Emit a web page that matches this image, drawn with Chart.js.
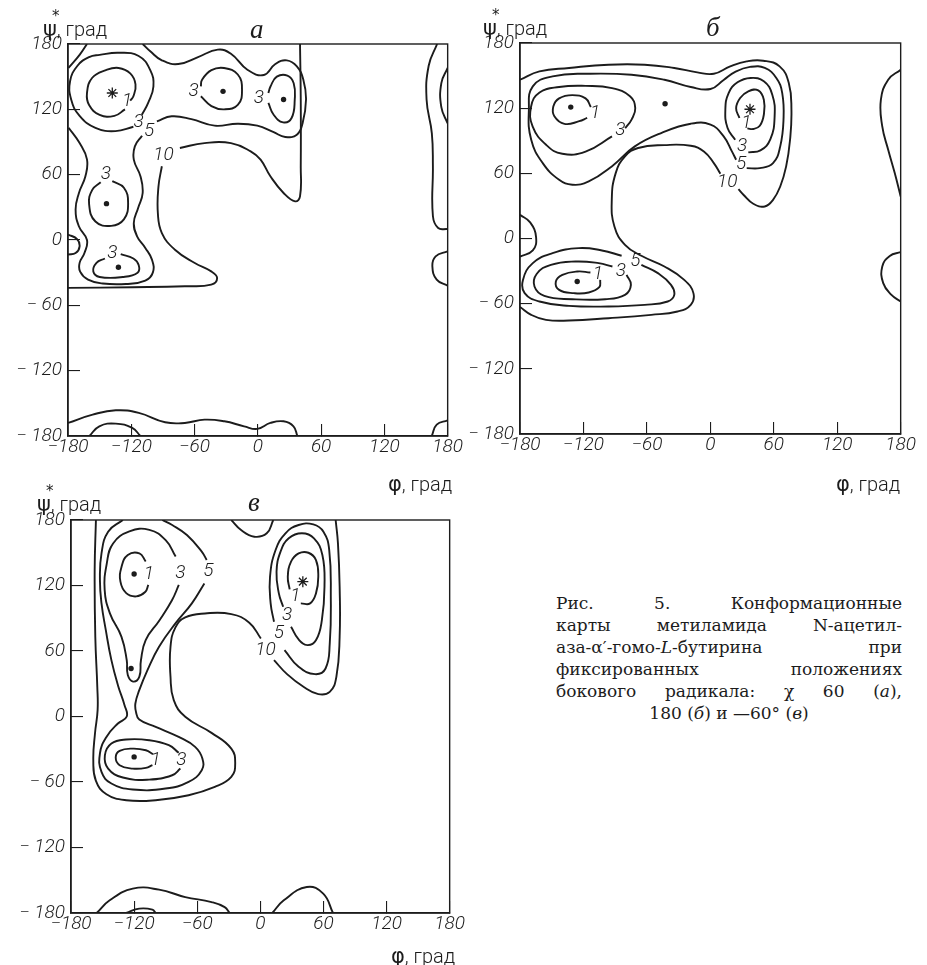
<!DOCTYPE html>
<html lang="ru">
<head>
<meta charset="utf-8">
<title>Конформационные карты</title>
<script src="https://cdn.jsdelivr.net/npm/chart.js@4.4.1/dist/chart.umd.min.js"></script>
<style>
  html, body { margin: 0; padding: 0; background: #fff; }
  body { position: relative; width: 927px; height: 965px; overflow: hidden; color: #1c1c1c; }
  canvas { position: absolute; }
  .axis-title { position: absolute; font-family: Roboto, "DejaVu Sans", sans-serif; font-weight: 300; font-size: 20px; line-height: 1; white-space: nowrap; }
  .axis-title .sym { position: relative; font-family: "DejaVu Sans", sans-serif; font-weight: 400; font-size: 21px; }
  .axis-title .ast { position: absolute; left: 9px; top: -8px; font-size: 15px; }
  .letter { position: absolute; font-family: "Liberation Serif", serif; font-style: italic; font-size: 27px; line-height: 1; }
  .caption { position: absolute; left: 556px; top: 592px; width: 346px; font-family: "DejaVu Serif", serif; font-size: 17px; line-height: 22px; }
  .caption .row { display: flex; justify-content: space-between; white-space: nowrap; }
  .caption .row.last { justify-content: center; }
</style>
</head>
<body>
<canvas id="mapA"></canvas>
<canvas id="mapB"></canvas>
<canvas id="mapC"></canvas>

<div class="axis-title" style="left:43px;top:19px"><span class="sym">ψ<span class="ast">*</span></span>, град</div>
<div class="axis-title" style="left:483px;top:18px"><span class="sym">ψ<span class="ast">*</span></span>, град</div>
<div class="axis-title" style="left:37px;top:494px"><span class="sym">ψ<span class="ast">*</span></span>, град</div>
<div class="axis-title" style="left:388px;top:474px"><span class="sym">φ</span>, град</div>
<div class="axis-title" style="left:836px;top:474px"><span class="sym">φ</span>, град</div>
<div class="axis-title" style="left:391px;top:946px"><span class="sym">φ</span>, град</div>

<div class="letter" style="left:250px;top:16px">а</div>
<div class="letter" style="left:706px;top:14px">б</div>
<div class="letter" style="left:248px;top:489px">в</div>

<div class="caption">
  <div class="row"><span>Рис.</span><span>5.</span><span>Конформационные</span></div>
  <div class="row"><span>карты</span><span>метиламида</span><span>N-ацетил-</span></div>
  <div class="row"><span>аза-α′-гомо-<i>L</i>-бутирина</span><span>при</span></div>
  <div class="row"><span>фиксированных</span><span>положениях</span></div>
  <div class="row"><span>бокового</span><span>радикала:</span><span>χ</span><span>60</span><span>(<i>а</i>),</span></div>
  <div class="row last"><span>180 (<i>б</i>) и —60° (<i>в</i>)</span></div>
</div>

<script>
const INK = "#1c1c1c";
const TICK_FONT = { family: "Roboto, 'Liberation Sans', sans-serif", size: 19, style: "italic", weight: "300" };

const phiTicks = [-180, -120, -60, 0, 60, 120, 180];
const psiTicks = [-180, -120, -60, 0, 60, 120, 180];

// ---- map a (chi 60) : contours as [phi, psi] ----
const aLoop1 = [[-126,120],[-136,114],[-150,115],[-160,124],[-162,135],[-157,149],[-144,156],[-132,158],[-121,153],[-116,143],[-118,132],[-121,128]];
const aLoop3Top = [[-110,115],[-104,126],[-99,141],[-102,156],[-113,169],[-132,172],[-150,170],[-160,168],[-171,160],[-178,146],[-177,129],[-169,114],[-154,103],[-135,100],[-118,104]];
const aCorner = [[-162,180],[-169,170],[-179.5,158]];
const aLoop3Mid = [[-138,54],[-127,48],[-123,34],[-127,19],[-139,13],[-154,17],[-160,33],[-157,46],[-149,53]];
const aLoop3Low = [[-130,-13],[-118,-17],[-113,-23],[-114,-30],[-128,-34],[-150,-34],[-156,-29],[-153,-21],[-145,-17]];
const aLoop3R1 = [[-54,132],[-44,123],[-32,120],[-19,124],[-15,138],[-19,152],[-32,158],[-44,156],[-53,147],[-54,141]];
const aLoop3R2 = [[10,126],[15,115],[24,108],[32,112],[35,129],[34,144],[28,151],[18,150],[12,141],[10,135]];
const aLevel5a = [[-179.4,103],[-169,89],[-162,74],[-163.5,58.5],[-169.7,43],[-172.8,28],[-169.7,12.6],[-162,0],[-164.4,-12],[-169,-21],[-168.5,-29],[-161,-36.4],[-147,-40],[-125,-40.4],[-106.7,-37.3],[-99.5,-29.7],[-100.4,-18],[-106.7,-7.3],[-114.5,3.4],[-117.6,15.6],[-113.5,29.4],[-109.2,43.2],[-111.3,58.5],[-117.6,73.8],[-116.6,86],[-109.8,95.8]];
const aLevel5b = [[-95.7,109],[-81.7,113.6],[-63,111],[-41,105],[-19.3,106.8],[-0.5,105],[15,99],[26,94.6],[37,96.7],[42.5,107.5],[45.7,129],[43.2,147],[37,159.5],[27.5,165],[16.6,161.6],[5.7,151.5],[-9.9,156.4],[-25.5,171],[-38,174.8],[-56.7,168],[-75.4,161.6],[-91,165],[-102,173.3],[-109.2,180]];
const aLevel10a = [[40,180],[40.7,129],[40.7,67.7],[40,40],[35.4,35.5],[24.4,43.2],[11.9,58.5],[2.6,73.8],[-6.8,81.4],[-25.5,89],[-50.5,89],[-73.9,84.5]];
const aLevel10b = [[-91,67.7],[-94.2,49.3],[-94.8,24.8],[-91,6.4],[-78.6,-8.9],[-59.8,-21.1],[-44.2,-28.8],[-38.6,-34.9],[-44.2,-41],[-69.2,-42.5],[-119,-43.4],[-180,-44]];
const aRight1 = [[170,180],[162,160],[160,129],[165,98],[166,68],[166,22],[171,11],[180,10]];
const aRight2 = [[180,158],[174,144],[174,122],[180,107]];
const aRight3 = [[180,-10.4],[168.6,-15],[165.5,-24.2],[169.6,-36.4],[180,-42]];
const aLeftSmall = [[-180,5],[-171.6,1],[-169,-5.8],[-172.8,-12],[-180,-13.4]];
const aBottom1 = [[-180,-168],[-156.6,-160.4],[-134.7,-156.4],[-112.9,-158.8],[-87.9,-167.4],[-69.2,-168],[-50.5,-165],[-31.7,-166.5],[-13,-171.1],[-0.5,-173.5],[11.9,-168],[24.4,-166.5],[33.8,-171.1],[37.5,-180]];
const aBottom2 = [[-159.7,-180],[-150.3,-171.1],[-134.7,-168.6],[-119.1,-172.6],[-111.3,-180]];
const aBottom3 = [[164.9,-180],[169.6,-169.6],[180,-165.6]];
const aDots = [[-33,136.5],[24.4,129],[-143.5,33.4],[-132.2,-25]];
const aStars = [[-138,135]];
const aLabels = [["1",-124,127],["3",-113,108],["5",-103,100],["10",-89.5,78],["3",-144,60],["3",-138,-12],["3",-61,136.5],["3",1,130]];

// ---- map б (chi 180) ----
const bLoop1L = [[-113,121],[-118,129],[-130.5,132],[-143,129],[-148.5,121.5],[-147.5,112.5],[-138,105.5],[-124,108],[-116.5,111]];
const bLoop3L = [[-93,94],[-118,80],[-140,78],[-155,86],[-168,103],[-169.5,121.5],[-161.5,134.5],[-143,139.5],[-118,140.5],[-93,138.5],[-76,131],[-71,120],[-74.5,109.5],[-80.5,101.5]];
const bLoop1S = [[27.5,111],[24.4,120],[28.2,129.3],[35.9,135.5],[45.3,136.4],[50.6,127.8],[50.6,114],[46.8,103.8],[40.6,100.8],[35,101.4]];
const bLoop3S = [[35.9,79.3],[47.4,81.1],[56.8,91.5],[60.8,112.4],[58.6,132.4],[50.6,144.7],[38.1,147.8],[25.7,143.8],[17.3,133.9],[14.2,118.6],[16.3,101.7],[23.5,90.9]];
const bLevel5Top = [[34.4,64.8],[46.8,64.8],[59.3,69.4],[66.1,84.8],[69.2,109.4],[68,133.9],[62.4,147.8],[51.5,157],[37.5,158],[23.5,153.5],[12.6,146],[0.2,137.6],[-18.5,139.5],[-43.4,146.2],[-74.5,150.8],[-115,151.7],[-149.2,149.3],[-167.9,140.1],[-171.6,118.6],[-169.4,90.9],[-158.5,69.4],[-143,54.1],[-130.5,49.5],[-115,52.5],[-93.2,66.4],[-71.4,84.8],[-46.5,97.1],[-18.5,105.7],[0.2,104.8],[12.6,94],[20.4,80.2],[24.4,72.5]];
const bLevel10a = [[-180,146.2],[-161.6,153.9],[-133.6,157],[-96.3,160],[-62.1,160],[-34.1,157],[-12.3,153],[3.3,151.7],[18.8,158.5],[34.4,163.1],[50,163.7],[65.5,158.5],[74.2,143.1],[76.7,118.6],[75.4,90.9],[71.7,66.4],[66.1,47.9],[59.3,35.6],[51.5,29.5],[40.6,32],[31.3,40.3],[26.6,45.5]];
const bLevel10b = [[9.5,59.6],[3.3,69.4],[-6.1,80.2],[-18.5,85.4],[-43.4,86],[-68.3,83.3],[-80.7,75.6],[-89.5,60.2],[-93.2,35.6],[-90.7,11.1],[-80.7,-5.8],[-65.2,-15.9],[-43.4,-25.8],[-24.7,-38.1],[-16,-50.3],[-18.5,-61.1],[-31,-67.2],[-55.9,-70.3],[-96.3,-73.4],[-133.6,-75.5],[-155.4,-74.9],[-169.4,-70.3],[-180,-63]];
const bLevel5Low = [[-65.2,-24.2],[-49.6,-31.9],[-37.2,-42.7],[-34.1,-51.9],[-40.3,-58],[-62.1,-61.1],[-96.3,-62.6],[-133.6,-62],[-161.6,-58],[-175.6,-50.3],[-177.2,-38.1],[-167.9,-22.7],[-149.2,-13.5],[-124.3,-8.9],[-102.5,-11],[-83.9,-15.9]];
const bLevel3Low = [[-79.2,-33.5],[-75.1,-42.7],[-80.7,-51.9],[-99.4,-55.9],[-130.5,-55.9],[-157,-52.8],[-166.3,-44.2],[-164.1,-32.5],[-150.8,-24.2],[-127.4,-21.2],[-105.6,-22.7],[-92.6,-25.8]];
const bLevel1Low = [[-104.1,-38.1],[-105,-44.8],[-115,-49.7],[-129,-50.3],[-143,-47.3],[-146.1,-39.6],[-139.9,-33.5],[-125.9,-30.4],[-113.4,-31.3]];
const bLeftSmall = [[-180,21.8],[-170.4,14.8],[-164.8,1.3],[-167.9,-11],[-180,-16.6]];
const bRight1 = [[180,155.4],[168.2,146.2],[161.3,127.8],[162.6,103.2],[168.2,81.7],[174.4,60.2],[180,38.7]];
const bRight2 = [[180,-12.6],[169.7,-16],[162.6,-25.8],[163.5,-41.1],[171.3,-51.9],[180,-58]];
const bDots = [[-132,121],[-42.8,124.1],[-125.9,-39.6]];
const bStars = [[37.5,119]];
const bLabels = [["1",-109,115],["3",-85,100],["1",34,106],["3",30,85],["5",29,68],["10",16,52],["5",-71,-21],["3",-84.5,-30.4],["1",-106.3,-32.5]];

// ---- map в (chi -60) ----
const vLoop1Top = [[-109,142],[-115,149.5],[-126,148],[-132,137],[-133,123.5],[-127.5,113],[-118,110],[-109.5,114],[-106.5,120.5]];
const vLoop3Top = [[-77.5,120.5],[-84,106.5],[-96,88],[-109,70],[-113.5,51.5],[-115,36.5],[-121,32],[-126,38],[-127,51.5],[-132,73],[-143,94.5],[-148,116],[-146,140],[-140,158.5],[-124.5,169.5],[-105.5,171],[-90,161.5],[-80.5,146.5]];
const vLevel5a = [[-130.7,180],[-144.7,169.3],[-151,149.4],[-152.5,125],[-151,103.6],[-146.9,79.1],[-141.6,51.6],[-135.4,28.7],[-129.1,10.4],[-127,0],[-135.4,-6.4],[-146.3,-18.7],[-152.5,-33.9],[-151,-50.7],[-141.6,-61.4],[-121.3,-66.9],[-90.1,-66],[-68.2,-59.9],[-55.7,-49.2],[-55.1,-38.5],[-62,-27.8],[-77.6,-18.7],[-99.5,-9.5],[-115.1,-2.8],[-118.2,4.2],[-118.8,11.9],[-115.1,24.1],[-107.3,42.5],[-96.3,63.9],[-80.7,85.3],[-65.1,103.6],[-53.2,121.9]];
const vLevel5b = [[-51,143.3],[-55.7,151],[-69.8,166.2],[-83.8,175.4],[-93.2,180]];
const vLevel10a = [[0.5,71.5],[-10.5,85.9],[-27.6,93.8],[-52.6,94.4],[-71.4,90.8],[-80.7,81.6],[-85.4,63.9],[-85.4,36.4],[-82.3,15],[-71.4,-0.3],[-46.4,-15],[-27.6,-29.4],[-23.9,-43.1],[-27.6,-55.3],[-43.3,-64.5],[-68.2,-72.1],[-99.5,-76.7],[-127.5,-76.7],[-146.3,-71.2],[-156.3,-59],[-158.8,-40.1],[-157.2,-15.6],[-154.7,5.8],[-155,27.2],[-156.9,73],[-157.5,134.2],[-156.3,180]];
const vLevel10b = [[13,51.6],[25.4,38.8],[41,27.2],[55.1,20.5],[66,22.6],[72.3,36.4],[75.4,73],[75.4,118.9],[73.8,158.6],[71.6,180]];
const vStar5 = [[23,60.8],[36.4,45.5],[52,38.8],[62,44],[66,66.9],[67,109.7],[65.5,152.5],[60,169.3],[50.4,176],[36.4,175.4],[23.9,167.8],[14.5,152.5],[9.2,128],[9.8,103.6],[13,86.8]];
const vStar3 = [[29.2,82.2],[36.4,70.6],[44.8,65.4],[53,70],[58.5,88.3],[61,118.9],[59,147.9],[51,163.2],[39.5,167.8],[27,163.2],[19.2,151],[15.4,132.6],[17.6,112.8],[21.7,100.5]];
const vStar1 = [[38.5,103.6],[47.3,103.6],[52.9,112.8],[55.1,128],[52.9,143.3],[45.7,150],[36.4,149.4],[29.2,141.8],[26.1,128],[27.9,116.4]];
const vLoop1Low = [[-102,-34.5],[-108.8,-30.9],[-121.3,-29.4],[-133.8,-31.5],[-137.5,-37.6],[-133.8,-44.6],[-121.3,-47.7],[-108.8,-47.1],[-102.6,-44.6]];
const vLoop3Low = [[-77.6,-33.3],[-87,-26.3],[-105.7,-21.7],[-127.5,-21.1],[-141.6,-24.8],[-147.8,-35.5],[-144.7,-47.7],[-130.7,-55.9],[-105.7,-57.8],[-83.8,-53.8],[-76,-47.7]];
const vTop = [[-27.6,180],[-18.3,170.8],[-5.8,164.7],[6.1,167.8],[12.3,180]];
const vBottom1 = [[-155.6,-180],[-143.2,-168.4],[-121.3,-157.7],[-96.3,-158.6],[-71.4,-165.4],[-46.4,-170],[-33.9,-174.6],[-29.2,-180]];
const vBottom2 = [[-127.5,-180],[-115.1,-176],[-102.6,-176.9],[-99.5,-180]];
const vBottom3 = [[11.4,-180],[22.3,-168.4],[44.2,-156.2],[59.8,-162.3],[69.1,-180]];
const vDots = [[-120,130.5],[-122.9,44],[-120,-37]];
const vStars = [[40.4,123.5]];
const vLabels = [["1",-106,130.5],["3",-76,131],["5",-49.5,132.6],["1",33.2,109.7],["3",25.4,93],["5",17.6,76],["10",5,61],["1",-99.5,-40],["3",-75,-40]];

const AREA_A = { left: 68, top: 44, right: 453, bottom: 436 };
const AREA_B = { left: 520, top: 43, right: 906, bottom: 434 };
const AREA_C = { left: 71, top: 520, right: 455, bottom: 913 };

function fmtPhi(v) { return v < 0 ? "−" + (-v) : String(v); }
function fmtPsi(v) { return v < 0 ? "− " + (-v) : String(v); }

const framePlugin = {
  id: "frame",
  afterDraw(chart) {
    const { ctx, chartArea: a } = chart;
    ctx.save();
    ctx.strokeStyle = INK;
    ctx.lineWidth = 1.4;
    ctx.strokeRect(a.left, a.top, a.right - a.left, a.bottom - a.top);
    ctx.restore();
  }
};

const labelPlugin = {
  id: "contourLabels",
  afterDatasetsDraw(chart, args, opts) {
    const { ctx, scales } = chart;
    ctx.save();
    ctx.fillStyle = INK;
    ctx.font = "italic 300 19px Roboto, 'Liberation Sans', sans-serif";
    ctx.textAlign = "center";
    ctx.textBaseline = "middle";
    (opts.items || []).forEach(([text, phi, psi]) => {
      ctx.fillText(text, scales.x.getPixelForValue(phi), scales.y.getPixelForValue(psi));
    });
    ctx.restore();
  }
};

function contour(points) {
  return { data: points, showLine: true, borderColor: INK, borderWidth: 1.9, pointRadius: 0, tension: 0.45, fill: false };
}

function makePanel(id, area, lines, dots, stars, labels) {
  const yW = 70, padTop = 40;
  const w = area.right - area.left;
  const h = area.bottom - area.top;
  const canvas = document.getElementById(id);
  canvas.width = yW + w + 22;
  canvas.height = padTop + h + 40;
  canvas.style.left = (area.left - yW) + "px";
  canvas.style.top = (area.top - padTop) + "px";

  const datasets = lines.map(contour);
  datasets.push({ data: dots, showLine: false, pointRadius: 2.7, pointBackgroundColor: INK, pointBorderWidth: 0 });
  datasets.push({ data: stars, showLine: false, pointStyle: "star", pointRadius: 5.5, pointBorderColor: INK, pointBorderWidth: 1.3 });

  return new Chart(canvas, {
    type: "scatter",
    data: { datasets },
    options: {
      responsive: false,
      animation: false,
      events: [],
      layout: { padding: { top: padTop, right: 22, left: 0, bottom: 0 } },
      plugins: { legend: { display: false }, tooltip: { enabled: false }, contourLabels: { items: labels } },
      scales: {
        x: {
          type: "linear", min: -180, max: 180,
          afterBuildTicks: (s) => { s.ticks = phiTicks.map((value) => ({ value })); },
          afterFit: (s) => { s.height = 40; },
          ticks: { font: TICK_FONT, color: INK, padding: 12, maxRotation: 0, autoSkip: false, callback: fmtPhi },
          grid: { drawOnChartArea: false, drawTicks: true, tickLength: -12, color: INK, lineWidth: 1.1 },
          border: { display: true, color: INK, width: 1.4 }
        },
        y: {
          type: "linear", min: -180, max: 180,
          afterBuildTicks: (s) => { s.ticks = psiTicks.map((value) => ({ value })); },
          afterFit: (s) => { s.width = yW; },
          ticks: { font: TICK_FONT, color: INK, padding: 18, autoSkip: false, callback: fmtPsi },
          grid: { drawOnChartArea: false, drawTicks: true, tickLength: -12, color: INK, lineWidth: 1.1 },
          border: { display: true, color: INK, width: 1.4 }
        }
      }
    },
    plugins: [framePlugin, labelPlugin]
  });
}

makePanel("mapA", AREA_A,
  [aLoop1, aLoop3Top, aCorner, aLoop3Mid, aLoop3Low, aLoop3R1, aLoop3R2, aLevel5a, aLevel5b, aLevel10a, aLevel10b,
   aRight1, aRight2, aRight3, aLeftSmall, aBottom1, aBottom2, aBottom3],
  aDots, aStars, aLabels);

makePanel("mapB", AREA_B,
  [bLoop1L, bLoop3L, bLoop1S, bLoop3S, bLevel5Top, bLevel10a, bLevel10b, bLevel5Low, bLevel3Low, bLevel1Low,
   bLeftSmall, bRight1, bRight2],
  bDots, bStars, bLabels);

makePanel("mapC", AREA_C,
  [vLoop1Top, vLoop3Top, vLevel5a, vLevel5b, vLevel10a, vLevel10b, vStar5, vStar3, vStar1, vLoop1Low, vLoop3Low,
   vTop, vBottom1, vBottom2, vBottom3],
  vDots, vStars, vLabels);
</script>
</body>
</html>
